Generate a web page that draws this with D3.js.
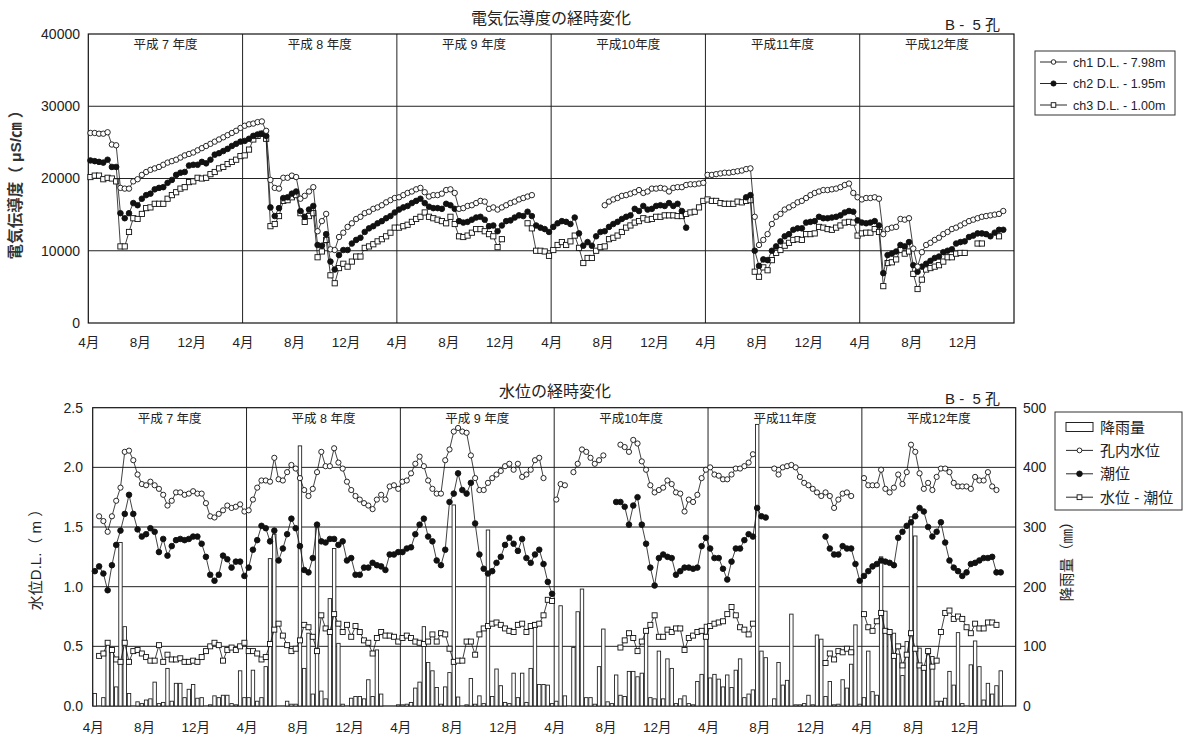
<!DOCTYPE html>
<html><head><meta charset="utf-8">
<script src="https://cdn.jsdelivr.net/npm/d3@7"></script>
<style>
body{margin:0;background:#fff;}
svg{display:block;font-family:"Liberation Sans","Noto Sans CJK JP",sans-serif;}
</style></head><body>
<svg id="chart" width="1185" height="738"></svg>
<script>
// Fiscal years and month ticks (36 ten-day periods per year, April start)
const fiscalYears = ["平成 7 年度", "平成 8 年度", "平成 9 年度", "平成10年度", "平成11年度", "平成12年度"];
const monthTicks = ["4月", "8月", "12月"];
const condTicks = [0, 10000, 20000, 30000, 40000];
const levelTicks = [0, 0.5, 1.0, 1.5, 2.0, 2.5];
const rainTicks = [0, 100, 200, 300, 400, 500];
const _ = null;

// Electrical conductivity (µS/cm), one row per fiscal year
const ch1 = [
  [26300,26300,26200,26200,26400,24700,24600,18700,18600,18600,19600,19900,20500,20900,21200,21400,21600,21900,22200,22400,22600,22900,23200,23400,23600,23900,24200,24500,24800,25100,25400,25700,26000,26300,26600,27000],
  [27300,27500,27600,27800,27900,26600,19800,18700,18600,20100,20100,20400,20200,17200,17600,18200,18800,12700,14100,15100,10200,10100,11900,12500,13300,13800,14400,14700,15200,15400,15800,16000,16300,16700,17000,17300],
  [17400,17700,18000,18200,18500,18700,18100,17500,17700,17700,17900,18400,18500,18000,15800,15900,16200,16300,16600,16900,16800,15800,16000,15700,16000,16300,16600,16800,17100,17300,17500,17700,_,_,_,_],
  [_,_,_,_,_,_,_,_,_,_,_,_,16300,16800,17100,17300,17600,17700,17900,18100,18400,18000,18200,18600,18600,18700,18600,18200,18700,18800,18800,19100,19200,19200,19300,19400],
  [20500,20500,20600,20700,20800,20800,20900,21000,21100,21300,21400,14700,10800,11500,12300,13700,14700,15100,15700,16000,16300,16700,16900,17300,17700,18000,18200,18400,18400,18500,18600,18800,19100,19300,18000,17400],
  [17100,17300,17300,17400,17200,12300,13000,13200,13300,14400,14300,14500,10300,7800,9800,10800,11100,11500,11800,12300,12600,13000,13200,13500,13800,14100,14300,14500,14700,14800,14900,15000,15100,15500,_,_]
];
const ch2 = [
  [22500,22400,22300,22200,22600,21600,21600,15200,14500,15200,16600,16300,17200,17700,17900,18500,18700,18800,19400,19800,20500,20800,20900,21800,21900,21900,22300,22100,22600,23300,23500,23800,24100,24500,24800,25100],
  [25200,25500,25900,26100,26200,25900,16000,14800,15900,17300,17400,17900,18200,15500,14700,15700,16200,10800,10700,12300,8500,7400,9400,10100,10100,11000,11500,11800,12600,13100,13400,13800,14100,14500,14800,15300],
  [15700,16000,16200,16600,16900,17200,16600,16100,15900,15900,15800,16500,16300,15800,14100,13900,14000,14300,14600,14700,14300,13400,13500,12700,13500,14100,14200,14600,14900,14800,15400,14800,13500,13200,13000,12600],
  [13300,13800,14100,14000,13700,14600,12400,10700,11200,10700,12000,12600,12700,13300,13700,14000,14400,14700,14900,15800,15500,16200,15700,15800,16200,16300,16200,16600,16200,16500,15500,13200,_,_,_,_],
  [_,_,_,_,_,_,_,_,_,17400,17700,10000,7900,8800,8700,10000,10600,11300,12000,12300,12900,13100,13100,13900,14000,14100,14700,14500,14500,14600,14700,14900,15300,15500,15400,14200],
  [13900,13800,13900,14100,13500,6900,9400,9600,9900,10800,10600,11200,8000,7100,7800,8200,8600,9000,9200,9800,10000,10200,11000,11200,11300,11900,12100,12400,12400,12300,12000,12500,12900,12900,_,_]
];
const ch3 = [
  [20200,20400,20400,19900,20100,20000,19600,10600,10600,12600,14500,14400,15100,15900,16000,16500,16500,16500,17200,17700,18100,18600,18800,19500,19600,20100,20000,20100,20600,20900,21400,21600,22000,22300,22600,23100],
  [23200,24000,25400,25900,26200,25500,13400,13700,14800,16900,17000,17400,17700,15200,14000,14800,15200,9100,9900,11500,6600,5500,7600,8200,7800,8500,9200,9200,10400,10600,10900,11300,11600,12000,12500,13200],
  [13200,13400,13600,14000,14400,14700,15300,14700,14500,14300,14100,13800,14700,13700,12000,11900,12100,12500,13000,13000,12700,12300,12000,10500,11600,_,_,_,_,_,13800,13100,10000,10000,9900,9300],
  [10100,10800,11200,10800,11300,12100,10400,8300,9000,9000,10000,10500,10600,11600,11800,12100,12600,13200,13500,13900,14100,14500,14300,14400,14700,14700,14900,14900,14900,14800,14800,15100,15300,15400,16000,16900],
  [17100,16900,16900,16600,16500,16500,16500,16800,16700,16900,17000,7100,6400,7700,7300,8700,9700,10100,10700,11100,11500,11600,11500,12300,12300,12400,13300,13200,13000,12900,13200,13500,13900,14000,13900,12100],
  [12400,12500,12500,13000,12600,5100,8300,8400,8800,10100,9600,9900,6800,4700,6000,7400,7600,7800,8000,8500,9100,9100,9600,9700,9700,_,_,11000,11000,_,_,_,12000,_,_,_]
];

// Water levels (D.L. m) and rainfall (mm), one row per fiscal year
const wellLevel = [
  [_,1.59,1.55,1.46,1.59,1.72,1.83,2.13,2.14,2.06,1.94,1.86,1.85,1.88,1.85,1.82,1.77,1.68,1.72,1.79,1.79,1.77,1.78,1.80,1.78,1.78,1.70,1.59,1.58,1.61,1.64,1.68,1.66,1.67,1.69,1.63],
  [1.64,1.73,1.83,1.89,1.89,1.88,2.08,1.90,1.89,1.96,2.02,1.99,1.91,1.81,1.76,1.82,1.96,2.13,2.01,2.01,2.16,2.04,1.99,1.88,1.81,1.76,1.73,1.70,1.68,1.65,1.73,1.77,1.73,1.84,1.85,1.82],
  [1.88,1.89,1.95,2.03,2.09,2.01,1.89,1.82,1.78,1.78,2.06,2.15,2.30,2.33,2.30,2.29,2.10,1.91,1.81,1.81,1.87,1.91,1.94,1.97,2.01,2.03,1.98,2.03,1.92,1.94,1.98,2.06,2.08,1.91,_,_],
  [1.73,1.86,1.85,_,1.96,2.03,2.15,2.13,2.08,2.03,2.06,2.10,_,_,_,2.19,2.17,2.13,2.23,2.20,2.05,1.98,1.85,1.79,1.81,1.83,1.89,1.86,1.79,1.78,1.63,1.73,1.71,1.77,1.91,1.98],
  [2.00,1.94,1.93,1.90,1.90,1.94,1.99,1.99,2.01,2.04,2.11,_,_,_,_,1.99,1.94,2.00,2.01,2.02,2.00,1.92,1.87,1.85,1.82,1.79,1.76,1.79,1.76,1.66,1.73,1.78,1.79,1.76,_,_],
  [1.91,1.85,1.85,1.85,1.98,1.82,1.79,1.83,1.94,1.86,1.96,2.19,2.13,1.95,1.82,1.87,1.81,1.92,1.99,1.99,1.96,1.87,1.84,1.84,1.84,1.82,1.92,1.89,1.89,1.96,1.84,1.81,_,_,_,_]
];
const tideLevel = [
  [1.13,1.17,1.11,0.97,1.18,1.35,1.47,1.61,1.77,1.61,1.48,1.42,1.44,1.49,1.46,1.29,1.40,1.26,1.34,1.39,1.40,1.39,1.40,1.42,1.42,1.36,1.25,1.10,1.05,1.10,1.26,1.23,1.16,1.21,1.21,1.09],
  [1.16,1.31,1.39,1.51,1.49,1.38,1.47,1.22,1.32,1.44,1.57,1.49,1.34,1.14,1.12,1.24,1.52,1.38,1.37,1.40,1.40,1.35,1.38,1.22,1.24,1.10,1.10,1.16,1.16,1.20,1.18,1.17,1.14,1.27,1.27,1.29],
  [1.29,1.32,1.33,1.44,1.52,1.57,1.42,1.38,1.22,1.18,1.31,1.71,1.78,1.95,1.81,1.78,1.87,1.53,1.27,1.15,1.11,1.13,1.20,1.25,1.35,1.41,1.36,1.30,1.40,1.24,1.20,1.27,1.31,1.19,1.04,0.94],
  [_,_,_,_,_,_,_,_,_,_,_,_,_,_,1.71,1.71,1.67,1.52,1.68,1.75,1.52,1.36,1.16,1.01,1.24,1.27,1.25,1.24,1.10,1.13,1.16,1.16,1.15,1.16,1.34,1.41],
  [1.32,1.24,1.24,1.15,1.06,1.21,1.32,1.32,1.39,1.44,1.42,1.66,1.59,1.58,_,_,_,_,_,_,_,_,_,_,_,_,_,1.42,1.32,1.27,1.27,1.34,1.32,1.32,1.19,1.05],
  [1.09,1.13,1.17,1.19,1.22,1.21,1.20,1.18,1.41,1.46,1.51,1.54,1.59,1.66,1.63,1.50,1.42,1.46,1.54,1.37,1.22,1.16,1.13,1.09,1.12,1.19,1.20,1.22,1.24,1.24,1.25,1.12,1.12,_,_,_]
];
const levelDiff = [
  [_,0.42,0.44,0.53,0.47,0.39,0.37,0.53,0.37,0.46,0.47,0.44,0.41,0.38,0.38,0.51,0.37,0.43,0.39,0.39,0.40,0.37,0.37,0.38,0.37,0.41,0.46,0.50,0.53,0.51,0.38,0.47,0.49,0.47,0.50,0.53],
  [0.46,0.46,0.44,0.39,0.41,0.52,0.64,0.69,0.59,0.51,0.46,0.48,0.55,0.68,0.66,0.58,0.46,0.76,0.65,0.62,0.77,0.69,0.62,0.68,0.58,0.67,0.62,0.55,0.53,0.44,0.57,0.62,0.59,0.59,0.58,0.54],
  [0.57,0.59,0.57,0.54,0.53,0.52,0.54,0.60,0.54,0.61,0.60,0.48,0.37,0.38,0.38,0.54,0.54,0.43,0.60,0.65,0.67,0.69,0.70,0.68,0.65,0.63,0.62,0.68,0.69,0.62,0.67,0.68,0.69,0.76,0.89,0.88],
  [_,_,_,_,_,_,_,_,_,_,_,_,_,_,_,0.49,0.55,0.61,0.57,0.46,0.54,0.63,0.68,0.76,0.58,0.58,0.64,0.62,0.65,0.65,0.47,0.57,0.59,0.62,0.63,0.58],
  [0.67,0.69,0.70,0.71,0.77,0.83,0.76,0.66,0.64,0.60,0.69,_,_,_,_,_,_,_,_,_,_,_,_,_,_,_,_,0.36,0.44,0.39,0.46,0.45,0.48,0.45,_,_],
  [0.77,0.66,0.63,0.71,0.78,0.63,0.62,0.42,0.50,0.34,0.43,0.61,0.48,0.34,0.32,0.46,0.33,0.38,0.62,0.78,0.80,0.73,0.75,0.73,0.66,0.61,0.69,0.65,0.65,0.70,0.70,0.68,_,_,_,_]
];
const rainfall = [
  [21,0,14,109,97,32,274,133,21,0,7,4,10,12,40,4,6,63,8,38,38,14,28,36,13,14,0,2,17,14,18,18,4,2,59,14],
  [14,60,8,14,66,247,288,0,0,8,3,3,436,63,122,20,304,25,12,180,264,105,3,0,13,16,16,12,44,16,94,20,0,0,0,2],
  [2,3,6,30,40,133,73,59,31,3,32,56,337,15,0,2,46,3,17,4,295,16,62,34,6,4,55,14,55,6,63,140,36,36,35,4],
  [8,168,17,0,98,158,196,14,14,3,66,129,7,4,52,18,16,58,58,49,55,125,14,12,92,12,79,63,4,12,17,4,2,41,53,137],
  [47,53,45,32,52,31,60,79,14,20,27,472,92,81,0,12,73,35,43,154,2,2,4,18,2,119,112,16,41,2,3,44,30,70,136,3],
  [14,92,24,18,250,159,125,122,87,51,108,317,285,97,63,86,83,8,8,13,58,35,123,4,0,69,109,66,10,38,20,34,59,_,_,_]
];

const PER_YEAR = 36;
const TOTAL = PER_YEAR * fiscalYears.length;
const svg = d3.select("#chart");

// Frame with grid, fiscal-year dividers and month labels
function drawFrame(box, y, gridVals, monthPad) {
  const g = svg.append("g");
  const x = d3.scaleLinear().domain([0, TOTAL]).range([box.left, box.right]);
  g.selectAll("line.grid").data(gridVals).join("line")
    .attr("x1", box.left).attr("x2", box.right)
    .attr("y1", d => y(d)).attr("y2", d => y(d))
    .attr("stroke", "#222").attr("stroke-width", 1);
  g.selectAll("line.year").data(d3.range(1, fiscalYears.length)).join("line")
    .attr("x1", d => x(d * PER_YEAR)).attr("x2", d => x(d * PER_YEAR))
    .attr("y1", box.top).attr("y2", box.bottom)
    .attr("stroke", "#222").attr("stroke-width", 1);
  g.append("rect").attr("x", box.left).attr("y", box.top)
    .attr("width", box.right - box.left).attr("height", box.bottom - box.top)
    .attr("fill", "none").attr("stroke", "#111").attr("stroke-width", 1.2);
  g.selectAll("text.fy").data(fiscalYears).join("text")
    .attr("x", (d, i) => x(i * PER_YEAR + PER_YEAR / 2)).attr("y", box.top + 15)
    .attr("text-anchor", "middle").attr("font-size", 12.5).attr("fill", "#222")
    .style("white-space", "pre").text(d => d);
  const monthIdx = d3.range(fiscalYears.length).flatMap(i => [0, 12, 24].map(m => i * PER_YEAR + m));
  const axis = d3.axisBottom(x).tickValues(monthIdx).tickSize(0).tickPadding(monthPad)
    .tickFormat(d => monthTicks[(d % PER_YEAR) / 12]);
  const ax = g.append("g").attr("transform", `translate(0,${box.bottom})`).call(axis);
  ax.select(".domain").remove();
  ax.selectAll("text").attr("font-size", 13.5).attr("fill", "#222")
    .style("font-family", '"Liberation Sans","Noto Sans CJK JP",sans-serif');
  return x;
}

function yAxis(scale, ticks, fmt, xPos, anchorLeft) {
  const axis = (anchorLeft ? d3.axisRight(scale) : d3.axisLeft(scale))
    .tickValues(ticks).tickSize(0).tickPadding(0).tickFormat(fmt);
  const ax = svg.append("g").attr("transform", `translate(${xPos},0)`).call(axis);
  ax.select(".domain").remove();
  ax.selectAll("text").attr("font-size", 14).attr("fill", "#222")
    .style("font-family", '"Liberation Sans",sans-serif');
}

function marker(sel, kind, r) {
  if (kind === "square") {
    sel.append("rect").attr("x", -r).attr("y", -r).attr("width", 2 * r).attr("height", 2 * r)
      .attr("fill", "#fff").attr("stroke", "#111").attr("stroke-width", 0.9);
  } else {
    sel.append("circle").attr("r", r)
      .attr("fill", kind === "filled" ? "#111" : "#fff")
      .attr("stroke", "#111").attr("stroke-width", 0.9);
  }
}

function drawSeries(x, y, rows, kind, r) {
  const vals = rows.flat();
  const pts = vals.map((v, i) => ({ i, v }));
  const line = d3.line().defined(d => d.v != null)
    .x(d => x(d.i + 0.5)).y(d => y(d.v));
  svg.append("path").datum(pts).attr("d", line)
    .attr("fill", "none").attr("stroke", "#111").attr("stroke-width", 0.8);
  svg.append("g").selectAll("g").data(pts.filter(d => d.v != null)).join("g")
    .attr("transform", d => `translate(${x(d.i + 0.5)},${y(d.v)})`)
    .each(function () { marker(d3.select(this), kind, r); });
}

// ---------- Electrical conductivity ----------
const topBox = { left: 88.3, right: 1014, top: 34, bottom: 323 };
const yCond = d3.scaleLinear().domain([0, 40000]).range([topBox.bottom, topBox.top]);
const xTop = drawFrame(topBox, yCond, [10000, 20000, 30000], 14);
yAxis(yCond, condTicks, d => String(d), 80, false);

drawSeries(xTop, yCond, ch3, "square", 2.6);
drawSeries(xTop, yCond, ch2, "filled", 2.8);
drawSeries(xTop, yCond, ch1, "open", 2.7);

svg.append("text").attr("x", 551).attr("y", 24).attr("text-anchor", "middle")
  .attr("font-size", 16).attr("fill", "#222").text("電気伝導度の経時変化");
svg.append("text").attr("x", 1000).attr("y", 30).attr("text-anchor", "end")
  .attr("font-size", 15).attr("fill", "#222").style("white-space", "pre").text("B -  5 孔");
svg.append("text").attr("transform", "translate(21,181) rotate(-90)")
  .attr("text-anchor", "middle").attr("font-size", 15.5).attr("font-weight", "bold")
  .attr("fill", "#333").style("white-space", "pre").text("電気伝導度（ μS/㎝ ）");

// legend
const legTop = svg.append("g");
legTop.append("rect").attr("x", 1035).attr("y", 51).attr("width", 140).attr("height", 64)
  .attr("fill", "#fff").attr("stroke", "#333");
const topLegendItems = [
  { label: "ch1 D.L. - 7.98m", kind: "open" },
  { label: "ch2 D.L. - 1.95m", kind: "filled" },
  { label: "ch3 D.L. - 1.00m", kind: "square" }
];
topLegendItems.forEach((d, i) => {
  const cy = 62 + i * 21.5;
  legTop.append("line").attr("x1", 1040).attr("x2", 1067).attr("y1", cy).attr("y2", cy)
    .attr("stroke", "#111").attr("stroke-width", 0.9);
  marker(legTop.append("g").attr("transform", `translate(1053.5,${cy})`), d.kind, d.kind === "filled" ? 2.6 : 2.3);
  legTop.append("text").attr("x", 1073).attr("y", cy + 4.5).attr("font-size", 12.5)
    .attr("fill", "#222").text(d.label);
});

// ---------- Water level ----------
const botBox = { left: 92.7, right: 1015.7, top: 407.7, bottom: 706 };
const yLevel = d3.scaleLinear().domain([0, 2.5]).range([botBox.bottom, botBox.top]);
const yRain = d3.scaleLinear().domain([0, 500]).range([botBox.bottom, botBox.top]);
const xBot = drawFrame(botBox, yLevel, [0.5, 1.0, 1.5, 2.0], 16);
yAxis(yLevel, levelTicks, d3.format(".1f"), 83, false);
yAxis(yRain, rainTicks, d => String(d), 1023, true);

// rainfall bars
const rainPts = rainfall.flat().map((v, i) => ({ i, v })).filter(d => d.v != null && d.v > 0);
const bw = (xBot(1) - xBot(0)) * 0.8;
svg.append("g").selectAll("rect").data(rainPts).join("rect")
  .attr("x", d => xBot(d.i + 0.5) - bw / 2).attr("width", bw)
  .attr("y", d => yRain(d.v)).attr("height", d => yRain(0) - yRain(d.v))
  .attr("fill", "#fff").attr("stroke", "#222").attr("stroke-width", 0.9);

drawSeries(xBot, yLevel, levelDiff, "square", 2.5);
drawSeries(xBot, yLevel, tideLevel, "filled", 2.8);
drawSeries(xBot, yLevel, wellLevel, "open", 2.6);

svg.append("text").attr("x", 555).attr("y", 397).attr("text-anchor", "middle")
  .attr("font-size", 16).attr("fill", "#222").text("水位の経時変化");
svg.append("text").attr("x", 1000).attr("y", 404).attr("text-anchor", "end")
  .attr("font-size", 15).attr("fill", "#222").style("white-space", "pre").text("B -  5 孔");
svg.append("text").attr("transform", "translate(41,556) rotate(-90)")
  .attr("text-anchor", "middle").attr("font-size", 15)
  .attr("fill", "#222").style("white-space", "pre").text("水位D.L.（ m ）");
svg.append("text").attr("transform", "translate(1072,558) rotate(-90)")
  .attr("text-anchor", "middle").attr("font-size", 14.5)
  .attr("fill", "#222").text("降雨量（㎜）");

const legBot = svg.append("g");
legBot.append("rect").attr("x", 1055).attr("y", 412).attr("width", 127).attr("height", 98)
  .attr("fill", "#fff").attr("stroke", "#333");
const botLegendItems = [
  { label: "降雨量", kind: "bar" },
  { label: "孔内水位", kind: "open" },
  { label: "潮位", kind: "filled" },
  { label: "水位 - 潮位", kind: "square" }
];
botLegendItems.forEach((d, i) => {
  const cy = 427 + i * 23.4;
  if (d.kind === "bar") {
    legBot.append("rect").attr("x", 1066).attr("y", cy - 4.5).attr("width", 27).attr("height", 9)
      .attr("fill", "#fff").attr("stroke", "#222");
  } else {
    legBot.append("line").attr("x1", 1066).attr("x2", 1093).attr("y1", cy).attr("y2", cy)
      .attr("stroke", "#111").attr("stroke-width", 0.9);
    marker(legBot.append("g").attr("transform", `translate(1079.5,${cy})`), d.kind, d.kind === "filled" ? 2.8 : 2.4);
  }
  legBot.append("text").attr("x", 1100).attr("y", cy + 5.5).attr("font-size", 15)
    .attr("fill", "#222").style("white-space", "pre").text(d.label);
});
</script></body></html>
